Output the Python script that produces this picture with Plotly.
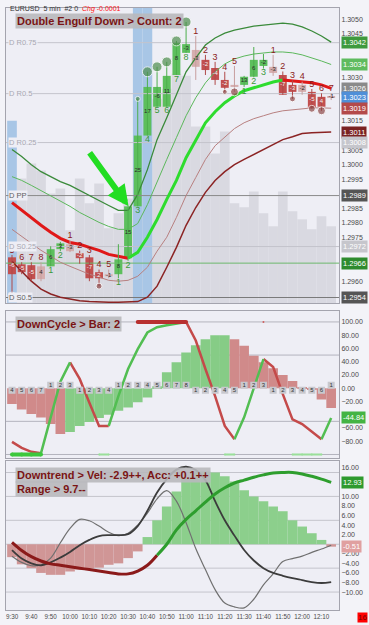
import plotly.graph_objects as go

# ---------------- data ----------------
times = ["9:30","9:35","9:40","9:45","9:50","9:55","10:00","10:05","10:10","10:15",
         "10:20","10:25","10:30","10:35","10:40","10:45","10:50","10:55","11:00","11:05",
         "11:10","11:15","11:20","11:25","11:30","11:35","11:40","11:45","11:50","11:55",
         "12:00","12:05","12:10","12:15"]
opens  = [1.29682,1.29658,1.29655,1.29651,1.29651,1.29710,1.29727,1.29696,1.29682,1.29631,
          1.29624,1.29624,1.29679,1.29857,1.30100,1.30199,1.30199,1.30308,1.30384,1.30394,
          1.30360,1.30332,1.30291,1.30274,1.30274,1.30302,1.30339,1.30336,1.30308,1.30274,
          1.30274,1.30250,1.30233,1.30236]
highs  = [1.29690,1.29665,1.29665,1.29665,1.29720,1.29735,1.29740,1.29705,1.29690,1.29640,
          1.29640,1.29727,1.29857,1.30226,1.30319,1.30336,1.30353,1.30425,1.30490,1.30442,
          1.30377,1.30353,1.30319,1.30339,1.30305,1.30404,1.30380,1.30377,1.30320,1.30290,
          1.30285,1.30260,1.30245,1.30245]
lows   = [1.29549,1.29624,1.29600,1.29600,1.29651,1.29703,1.29700,1.29660,1.29600,1.29583,
          1.29610,1.29610,1.29670,1.29857,1.30100,1.30199,1.30199,1.30308,1.30384,1.30291,
          1.30308,1.30274,1.30250,1.30250,1.30267,1.30300,1.30330,1.30305,1.30240,1.30226,
          1.30240,1.30192,1.30185,1.30222]
closes = [1.29624,1.29631,1.29607,1.29607,1.29710,1.29730,1.29703,1.29679,1.29610,1.29610,
          1.29617,1.29675,1.29857,1.30100,1.30267,1.30267,1.30305,1.30418,1.30414,1.30336,
          1.30325,1.30291,1.30264,1.30267,1.30302,1.30360,1.30360,1.30315,1.30240,1.30250,
          1.30250,1.30195,1.30199,1.30230]
kinds = ["dn","dn","dn","wk","up","up","wk","dn","dn","dn","wk","up","up","up","up","up","up",
         "up","up","wk","dn","dn","dn","wk","up","up","up","wk","dn","dn","wk","dn","dn","wk"]
count_lbl = ["5","6","7","8","1","2","1","2","3","4","5","1","2","3","4","5","6","7","8",
             "1","2","3","4","5","1","2","3","1","2","3","4","5","6","7"]
body_lbl = ["-6","-5","-5","4","6","3","-3","-2","-7","2","-1","8","15","25","17","-6","11",
            "8","-3","-3","-2","-4","-2","","13","6","-2","-3","-7","-3","-2","-5","4","-1"]
volume = [100,125,140,133,110,115,73,125,100,120,75,90,105,155,185,205,215,230,228,177,
          177,150,172,100,96,112,90,77,112,92,84,74,87,77]

band_up2 = [1.30052,1.30028,1.30000,1.29976,1.29959,1.29942,1.29929,1.29911,1.29894,1.29877,
            1.29860,1.29843,1.29843,1.29898,1.29983,1.30086,1.30161,1.30240,1.30319,1.30367,
            1.30411,1.30435,1.30452,1.30462,1.30469,1.30476,1.30479,1.30483,1.30486,1.30483,
            1.30473,1.30459,1.30442,1.30421]
band_up1 = [1.29959,1.29946,1.29929,1.29911,1.29894,1.29877,1.29857,1.29836,1.29819,1.29802,
            1.29788,1.29778,1.29778,1.29798,1.29863,1.29942,1.30018,1.30093,1.30168,1.30230,
            1.30281,1.30319,1.30346,1.30363,1.30373,1.30380,1.30384,1.30387,1.30387,1.30384,
            1.30377,1.30367,1.30356,1.30344]
band_mid = [1.29870,1.29843,1.29819,1.29792,1.29768,1.29747,1.29733,1.29727,1.29716,1.29706,
            1.29692,1.29686,1.29679,1.29699,1.29751,1.29812,1.29881,1.29946,1.30024,1.30086,
            1.30144,1.30182,1.30213,1.30236,1.30254,1.30264,1.30274,1.30284,1.30291,1.30288,
            1.30284,1.30281,1.30274,1.30262]
band_dn1 = [1.29778,1.29754,1.29730,1.29706,1.29686,1.29665,1.29651,1.29638,1.29624,1.29614,
            1.29603,1.29600,1.29603,1.29617,1.29648,1.29703,1.29751,1.29819,1.29894,1.29956,
            1.30018,1.30065,1.30096,1.30124,1.30144,1.30158,1.30168,1.30178,1.30185,1.30189,
            1.30192,1.30195,1.30195,1.30194]
band_dn2 = [1.29668,1.29634,1.29600,1.29573,1.29556,1.29545,1.29538,1.29533,1.29530,1.29528,
            1.29528,1.29528,1.29528,1.29530,1.29545,1.29583,1.29648,1.29716,1.29792,1.29853,
            1.29905,1.29946,1.29976,1.30000,1.30018,1.30035,1.30052,1.30069,1.30086,1.30096,
            1.30107,1.30110,1.30112,1.30112]

pivot_names = ["D R0.75","D R0.5","D R0.25","D PP","D S0.25","D S0.5"]
pivot_vals = [1.30419,1.30244,1.30076,1.29894,1.29719,1.29544]
pivot_tags = [False, False, True, True, True, True]
prev_close = 1.29662

pattern_idx = [0, 13, 14]
pattern_h = [183, 296, 296]
swing_hi_idx = [13, 14, 15, 16, 17, 18]
swing_hi_size = [5, 10, 10, 10, 10, 10]
swing_lo_idx = [0, 9, 22, 23, 29, 31, 32]
swing_lo_size = [8, 6, 5, 8, 6, 7, 8]

# middle panel (cycle)
hist2 = [-24,-32,-39,-44,-54,-69,-66,-57,-51,-45,-40,-34,-29,-21,-14,3,24,39,54,65,74,80,80,
         74,64,49,39,30,20,11,2,-2,-17,-30]
hist2_kind = ["dn"]*6 + ["up"]*17 + ["dn"]*11
cyc = [-81,-90,-96,-98,-44,10,39,14,-22,-57,-57,-12,29,59,84,92,95,98,100,72,29,-12,-57,-77,
       -44,0,44,32,-9,-47,-54,-65,-77,-44.84]
cnt2 = [4,5,6,7,1,2,3,1,2,3,4,1,2,3,4,5,6,7,8,1,2,3,4,5,1,2,3,1,2,3,4,5,6,1]
os_strong = [[0, 1, 2, 3]]
ob_strong = [[13, 14, 15, 16, 17, 18]]
os_weak = [[9, 10], [22, 23], [29, 30, 31, 32]]
ob_weak = [[26]]

# bottom panel (trend)
hist3 = [-2.7,-4.2,-5.0,-6.0,-6.4,-6.4,-5.7,-5.3,-5.0,-4.9,-4.3,-4.0,-2.9,-1.5,1.5,5.0,7.9,
         11.0,14.0,15.2,15.2,15.0,14.2,13.1,11.3,10.0,9.0,7.9,6.9,5.0,3.7,2.3,0.9,-0.51]
vel = [0.4,-1.3,-2.6,-3.5,-4.1,-4.4,-4.7,-5.0,-5.3,-5.6,-5.9,-6.2,-6.2,-5.6,-4.4,-2.3,0.0,3.0,
       5.2,7.0,8.8,10.5,11.8,12.8,13.4,14.0,14.5,14.9,15.0,15.0,14.7,14.2,13.6,12.93]
fast = [-2.5,-3.8,-4.5,-4.3,-2.9,0.3,3.3,5.2,4.9,3.8,2.5,1.8,2.3,4.0,6.5,9.5,11.2,9.0,4.5,
        -0.9,-5.3,-9.5,-12.3,-13.1,-13.3,-11.5,-8.5,-6.2,-3.6,-3.0,-2.5,-1.7,-1.0,-0.2]
slow = [-1.25,-3.0,-4.0,-4.4,-3.8,-2.8,-1.6,-0.2,0.9,1.7,1.9,1.9,2.1,3.8,7.0,10.8,13.6,15.6,
        16.2,15.5,13.4,9.0,5.0,1.8,-1.2,-3.4,-5.0,-6.0,-6.6,-7.1,-7.5,-7.9,-8.1,-7.9]

# ---------------- helpers ----------------
n = len(times)
xs = list(range(n))
XR = [-0.62, n - 1 + 0.81]
FONT = "Liberation Sans, Arial, sans-serif"
UP, DN, WK = "#5DBF5D", "#C24F4F", "#D6AEAE"
kcol = {"up": UP, "dn": DN, "wk": WK}
wcol = {"up": "#4DAF4D", "dn": "#B04848", "wk": "#C79E9E"}
PY = "y2"  # price axis (overlays the volume axis)
PR = [1.29525, 1.30538]
MR = [-106, 116.5]
BR = [-13.75, 17.3]


def runs(vals, flags):
    out = {True: ([], []), False: ([], [])}
    i, m = 0, len(flags)
    while i < m:
        j = i
        while j + 1 < m and flags[j + 1] == flags[i]:
            j += 1
        rx, ry = out[flags[i]]
        rx.extend(list(range(i, j + 2)) + [None])
        ry.extend(list(vals[i:j + 2]) + [None])
        i = j + 1
    return out


def groups_xy(groups, level):
    gx, gy = [], []
    for g in groups:
        gx.extend(g + [None])
        gy.extend([level] * len(g) + [None])
    return gx, gy


fig = go.Figure()

# ---------------- top panel ----------------
fig.add_trace(go.Bar(x=xs, y=volume, yaxis="y", width=1.0, marker=dict(color="#D9D9E1", line_width=0)))
fig.add_trace(go.Bar(x=pattern_idx, y=pattern_h, yaxis="y", width=1.0,
                     marker=dict(color="#A8C6E6", line_width=0)))

piv_line_col = ["#C4C4CC", "#C4C4CC", "#C4C4CC", "#8A8A8A", "#C4C4CC", "#7A7A7A"]
for v, c in zip(pivot_vals, piv_line_col):
    fig.add_trace(go.Scatter(x=XR, y=[v, v], yaxis=PY, mode="lines", line=dict(color=c, width=1),
                             hoverinfo="skip"))
fig.add_trace(go.Scatter(x=XR, y=[prev_close, prev_close], yaxis=PY, mode="lines",
                         line=dict(color="#6DB86D", width=1), hoverinfo="skip"))

fig.add_trace(go.Scatter(x=xs, y=band_dn2, yaxis=PY, mode="lines", line=dict(color="#8B2323", width=1.5)))
fig.add_trace(go.Scatter(x=xs, y=band_dn1, yaxis=PY, mode="lines", line=dict(color="#B88080", width=1)))
fig.add_trace(go.Scatter(x=xs, y=band_up1, yaxis=PY, mode="lines", line=dict(color="#5CB85C", width=1)))
fig.add_trace(go.Scatter(x=xs, y=band_up2, yaxis=PY, mode="lines", line=dict(color="#3A8A3A", width=1.3)))
mid_r = runs(band_mid, [band_mid[i + 1] > band_mid[i] for i in range(n - 1)])
fig.add_trace(go.Scatter(x=mid_r[False][0], y=mid_r[False][1], yaxis=PY, mode="lines",
                         line=dict(color="#E01818", width=3)))
fig.add_trace(go.Scatter(x=mid_r[True][0], y=mid_r[True][1], yaxis=PY, mode="lines",
                         line=dict(color="#2EDC2E", width=3)))

for k in ["up", "dn", "wk"]:
    wx, wy = [], []
    for i in xs:
        if kinds[i] == k:
            wx += [i, i, None]
            wy += [lows[i], highs[i], None]
    fig.add_trace(go.Scatter(x=wx, y=wy, yaxis=PY, mode="lines", line=dict(color=wcol[k], width=1)))

bases = [min(o, c) for o, c in zip(opens, closes)]
hts = [max(abs(c - o), 0.00005) for o, c in zip(opens, closes)]
fig.add_trace(go.Bar(x=xs, y=hts, base=bases, yaxis=PY, width=0.82,
                     marker=dict(color=[kcol[k] for k in kinds], line_width=0)))

fig.add_trace(go.Scatter(x=swing_hi_idx, y=[highs[i] for i in swing_hi_idx], yaxis=PY, mode="markers",
                         marker=dict(color="#4E8E4E", size=swing_hi_size)))
fig.add_trace(go.Scatter(x=swing_lo_idx, y=[lows[i] for i in swing_lo_idx], yaxis=PY, mode="markers",
                         marker=dict(color="#8E4848", size=swing_lo_size)))

ab = [i for i in xs if kinds[i] != "up"]
be = [i for i in xs if kinds[i] == "up"]
fig.add_trace(go.Scatter(x=ab, y=[highs[i] for i in ab], yaxis=PY, mode="text",
                         text=[count_lbl[i] for i in ab], textposition="top center",
                         textfont=dict(size=9, color="#8B1A1A", family=FONT)))
fig.add_trace(go.Scatter(x=be, y=[lows[i] for i in be], yaxis=PY, mode="text",
                         text=[count_lbl[i] for i in be], textposition="bottom center",
                         textfont=dict(size=9, color="#3A9A3A", family=FONT)))
fig.add_trace(go.Scatter(x=xs, y=[(o + c) / 2 for o, c in zip(opens, closes)], yaxis=PY, mode="text",
                         text=body_lbl, textposition="middle center",
                         textfont=dict(size=6, family=FONT,
                                       color=["#F4F4F4" if k == "dn" else "#2A2A2A" for k in kinds])))

# ---------------- middle panel ----------------
fig.add_trace(go.Bar(x=xs, y=hist2, xaxis="x2", yaxis="y3", width=1.0,
                     marker=dict(color=["#86CC86" if k == "up" else "#D08A8A" for k in hist2_kind],
                                 line_width=0)))
cyc_r = runs(cyc, [cyc[i + 1] > cyc[i] for i in range(n - 1)])
fig.add_trace(go.Scatter(x=cyc_r[False][0], y=cyc_r[False][1], xaxis="x2", yaxis="y3", mode="lines",
                         line=dict(color="#C44A4A", width=2.5)))
fig.add_trace(go.Scatter(x=cyc_r[True][0], y=cyc_r[True][1], xaxis="x2", yaxis="y3", mode="lines",
                         line=dict(color="#52BE52", width=2.5)))
for grp, lvl, col, w in [(os_strong, -100, "#3CC83C", 4), (ob_strong, 100, "#B83030", 4),
                         (os_weak, -100, "#9ADF9A", 2), (ob_weak, 100, "#D06060", 2)]:
    gx, gy = groups_xy(grp, lvl)
    fig.add_trace(go.Scatter(x=gx, y=gy, xaxis="x2", yaxis="y3", mode="lines+markers",
                             line=dict(color=col, width=w), marker=dict(color=col, size=w)))
updir = [i > 0 and cyc[i] > cyc[i - 1] for i in xs]
fig.add_trace(go.Scatter(x=xs, y=[4.5 if u else -3 for u in updir], xaxis="x2", yaxis="y3",
                         mode="markers+text", text=[str(c) for c in cnt2], textposition="middle center",
                         textfont=dict(size=6, color="#333333", family=FONT),
                         marker=dict(symbol="square", size=7, color="#C8C8CE")))

# ---------------- bottom panel ----------------
fig.add_trace(go.Bar(x=xs, y=hist3, xaxis="x3", yaxis="y4", width=1.0,
                     marker=dict(color=["#8CCF8C" if v > 0 else "#D09696" for v in hist3], line_width=0)))
fig.add_trace(go.Scatter(x=xs, y=fast, xaxis="x3", yaxis="y4", mode="lines",
                         line=dict(color="#707070", width=1.2, shape="spline")))
fig.add_trace(go.Scatter(x=xs, y=slow, xaxis="x3", yaxis="y4", mode="lines",
                         line=dict(color="#3C3C3C", width=1.8, shape="spline")))
vel_r = runs(vel, [hist3[i] > 0 and vel[i] > -3 for i in range(n - 1)])
fig.add_trace(go.Scatter(x=vel_r[False][0], y=vel_r[False][1], xaxis="x3", yaxis="y4", mode="lines",
                         line=dict(color="#8B1A1A", width=3, shape="spline")))
fig.add_trace(go.Scatter(x=vel_r[True][0], y=vel_r[True][1], xaxis="x3", yaxis="y4", mode="lines",
                         line=dict(color="#2E9E2E", width=3, shape="spline")))

# ---------------- layout ----------------
shapes = []
for v in [100, 50, -50, -100]:
    shapes.append(dict(type="line", xref="x2 domain", x0=0, x1=1, yref="y3", y0=v, y1=v,
                       line=dict(color="#B4B4BE", width=1), layer="below"))
for v in [15, 10, 5, 0, -5, -10]:
    shapes.append(dict(type="line", xref="x3 domain", x0=0, x1=1, yref="y4", y0=v, y1=v,
                       line=dict(color="#C4C4CC", width=1), layer="below"))

ann = []
ann.append(dict(xref="paper", yref="paper", x=0, y=1, xanchor="left", yanchor="middle", xshift=2, yshift=-1,
                showarrow=False, font=dict(size=7, color="#333", family=FONT),
                text="EURUSD  5 min  #2 0  <span style='color:#FF1010'><i>Chg</i> -0.0001</span>"))
box = dict(showarrow=False, bgcolor="rgba(184,184,188,0.9)", borderpad=1,
           font=dict(size=11, color="#7A1414", family=FONT))
ann.append(dict(box, xref="paper", yref="paper", x=0, y=1, xanchor="left", yanchor="top", xshift=9,
                yshift=-5, text="<b>Double Engulf Down > Count: 2</b>"))
ann.append(dict(box, xref="paper", yref="paper", x=0, y=0.4967, xanchor="left", yanchor="top", xshift=9,
                yshift=-5, text="<b>DownCycle > Bar: 2</b>"))
ann.append(dict(box, xref="paper", yref="paper", x=0, y=0.2467, xanchor="left", yanchor="top", xshift=9,
                yshift=-6, text="<b>Downtrend > Vel: -2.9++, Acc: +0.1++</b>"))
ann.append(dict(box, xref="paper", yref="paper", x=0, y=0.2467, xanchor="left", yanchor="top", xshift=9,
                yshift=-20, text="<b>Range > 9.7--</b>"))

piv_txt_col = ["#A8A8B2", "#A8A8B2", "#A8A8B2", "#606060", "#A8A8B2", "#606060"]
for name, v, c in zip(pivot_names, pivot_vals, piv_txt_col):
    ann.append(dict(xref="paper", yref=PY, x=0, y=v, xanchor="left", yanchor="middle", xshift=2,
                    showarrow=False, text=name, bgcolor="#EEEEF5", borderpad=0,
                    font=dict(size=7.5, color=c, family=FONT)))

tag_vals = {PY: [], "y3": [], "y4": []}


def tag(val, yref, bg, txt, fc="white"):
    tag_vals[yref].append(val)
    ann.append(dict(xref="paper", yref=yref, x=1, y=val, xanchor="left", yanchor="middle", xshift=2,
                    showarrow=False, text=txt, bgcolor=bg, borderpad=1,
                    font=dict(size=7.5, color=fc, family=FONT)))


tag(band_mid[-1], PY, "#8A8A8A", f"{band_mid[-1]:.4f}")
tag(band_up2[-1], PY, "#3E9A3E", f"{band_up2[-1]:.4f}")
tag(band_up1[-1], PY, "#5EBB5E", f"{band_up1[-1]:.4f}")
tag(closes[-1], PY, "#4F8FD8", f"{closes[-1]:.4f}")
tag(band_dn1[-1], PY, "#B44A4A", f"{band_dn1[-1]:.4f}")
tag(band_dn2[-1], PY, "#7A2222", f"{band_dn2[-1]:.4f}")
for v, t, c in zip(pivot_vals, pivot_tags, piv_txt_col):
    if t:
        tag(v, PY, "#C6C6CC" if c == "#A8A8B2" else "#555555", f"{v:.4f}")
tag(prev_close, PY, "#2E8B2E", f"{prev_close:.4f}")
tag(cyc[-1], "y3", "#44B444", f"{cyc[-1]:.2f}")
tag(vel[-1], "y4", "#2E9A2E", f"{vel[-1]:.2f}")
tag(hist3[-1], "y4", "#E0A0A0", f"{hist3[-1]:.2f}")
ann.append(dict(xref="paper", yref="paper", x=1, y=0, xanchor="left", yanchor="top", xshift=18, yshift=-2,
                showarrow=False, text="16", bgcolor="#FF0000", borderpad=0,
                font=dict(size=8, color="#7A0000", family=FONT)))
# green arrow pointing at the pattern
ann.append(dict(xref="x", yref=PY, x=12.05, y=1.29857, ax=-40, ay=-55, showarrow=True, text="",
                arrowcolor="#22DD22", arrowwidth=6, arrowhead=2, arrowsize=0.7, standoff=0))


def free_ticks(lo, hi, step, tags, gap):
    k0 = int(lo / step) + 1
    out = []
    k = k0
    while k * step <= hi:
        t = round(k * step, 6)
        if all(abs(t - v) > gap for v in tags):
            out.append(t)
        k += 1
    return out


t_price = free_ticks(PR[0], PR[1], 0.0005, tag_vals[PY], 0.00022)
t_mid = free_ticks(MR[0], MR[1], 20, tag_vals["y3"], 7)
t_bot = free_ticks(BR[0], BR[1], 2, tag_vals["y4"], 1.1)

axis_common = dict(showgrid=False, zeroline=False, showline=True, mirror=True, linecolor="#A4A4AE",
                   linewidth=1, ticks="")
tickf = dict(size=7, color="#4A4A4A", family=FONT)
tv = [i for i in xs if times[i].endswith("0")]

fig.update_layout(
    width=369, height=625, margin=dict(l=5, r=30, t=8, b=13),
    paper_bgcolor="#F3F3F8", plot_bgcolor="#EEEEF5", showlegend=False, barmode="overlay",
    font=dict(family=FONT),
    xaxis=dict(axis_common, domain=[0, 1], range=XR, anchor="y", showticklabels=False),
    xaxis2=dict(axis_common, domain=[0, 1], range=XR, anchor="y3", showticklabels=False),
    xaxis3=dict(axis_common, domain=[0, 1], range=XR, anchor="y4", tickvals=tv,
                ticktext=[times[i] for i in tv], tickfont=dict(tickf, size=6.3), tickangle=0),
    yaxis=dict(domain=[0.5099, 1], range=[0, 296], visible=False, anchor="x", fixedrange=True),
    yaxis2=dict(axis_common, overlaying="y", range=PR, side="right", anchor="x",
                tickvals=t_price, tickformat=".4f", tickfont=tickf),
    yaxis3=dict(axis_common, domain=[0.2517, 0.4967], range=MR, side="right", anchor="x2",
                tickvals=t_mid, tickformat=".2f", tickfont=tickf),
    yaxis4=dict(axis_common, domain=[0, 0.2467], range=BR, side="right", anchor="x3",
                tickvals=t_bot, tickformat=".2f", tickfont=tickf),
    shapes=shapes, annotations=ann,
)

fig.write_html("out.html")
